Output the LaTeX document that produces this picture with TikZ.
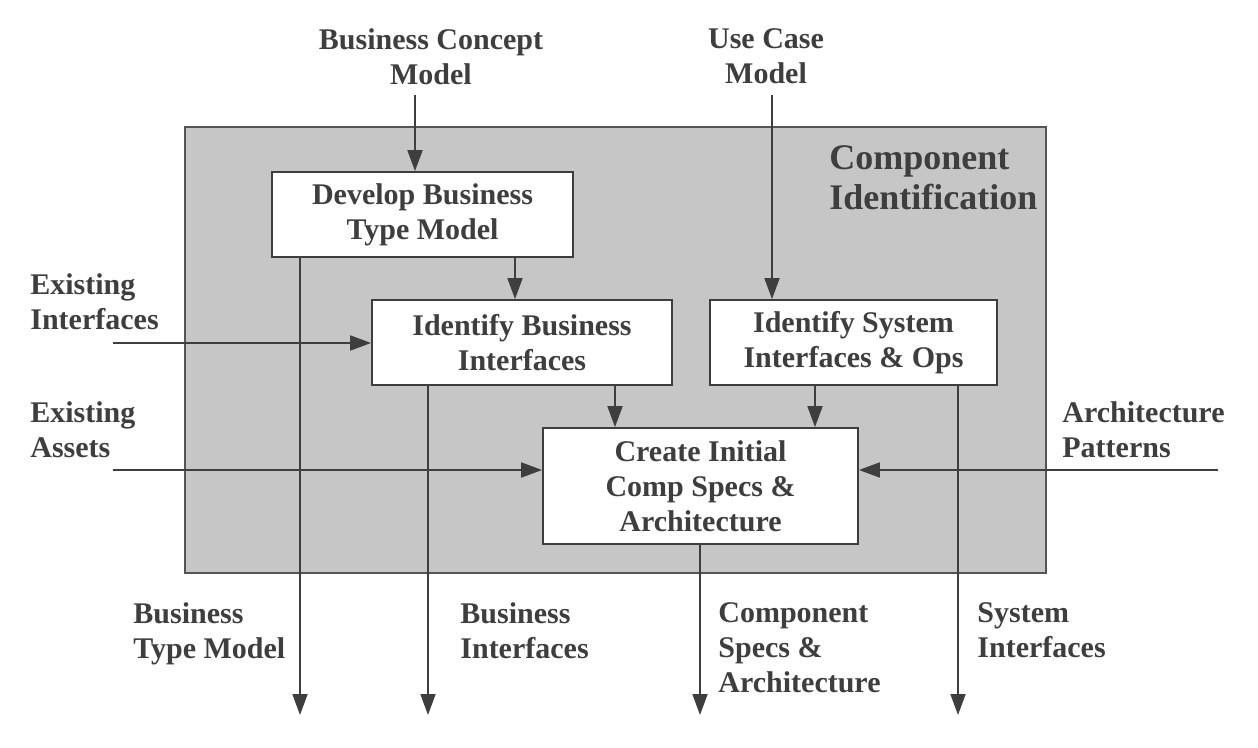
\documentclass[tikz,border=0pt]{standalone}
\usepackage{fontspec}
\setmainfont{Liberation Serif}
\usetikzlibrary{arrows.meta}
\definecolor{ink}{RGB}{62,62,62}
\definecolor{panelfill}{RGB}{198,198,198}
\definecolor{paneledge}{RGB}{85,85,85}
\begin{document}
\begin{tikzpicture}[x=0.5pt,y=-0.5pt,
  every node/.style={text=ink, font=\fontsize{15}{17.5}\selectfont\bfseries},
  proc/.style={draw=ink, line width=0.9pt, fill=white, align=center, inner sep=0pt},
  lbl/.style={align=left, anchor=north west, inner sep=0pt},
  lblc/.style={align=center, anchor=north, inner sep=0pt},
  flow/.style={draw=ink, line width=0.9pt, -{Triangle[length=10.5pt,width=7.5pt]}},
]
\useasboundingbox (0,0) rectangle (1258,748);
\node[draw=paneledge, line width=1pt, fill=panelfill, minimum width=430.5pt, minimum height=223pt, inner sep=0pt] (panel) at (615.5,350) {};

\node[lbl, font=\fontsize{18}{20}\selectfont\bfseries] (title) at (829,145) {Component\\Identification};

\node[proc, minimum width=150.5pt, minimum height=42.5pt] (dev) at (422.5,214.5) {Develop Business\\Type Model};
\node[proc, minimum width=150pt, minimum height=42.5pt] (ibi) at (522,342.5) {Identify Business\\Interfaces};
\node[proc, minimum width=143.5pt, minimum height=42.5pt] (sys) at (853.5,342.5) {Identify System\\Interfaces \& Ops};
\node[proc, minimum width=157.5pt, minimum height=58pt] (cre) at (700.5,486) {Create Initial\\Comp Specs \&\\Architecture};

\node[lblc] (bcm) at (431,28) {Business Concept\\Model};
\node[lblc] (ucm) at (766,28) {Use Case\\Model};
\node[lbl] (ei) at (30,273) {Existing\\Interfaces};
\node[lbl] (ea) at (30,401) {Existing\\Assets};
\node[lbl] (ap) at (1062,401) {Architecture\\Patterns};
\node[lbl] (btm) at (133,602) {Business\\Type Model};
\node[lbl] (bi) at (460,602) {Business\\Interfaces};
\node[lbl] (csa) at (718,602) {Component\\Specs \&\\Architecture};
\node[lbl] (si) at (977,602) {System\\Interfaces};

\coordinate (inBCM) at (415,95);
\coordinate (inUC) at (772,95);
\coordinate (inEI) at (113,343);
\coordinate (inEA) at (113,470);
\coordinate (inAP) at (1218,470);
\coordinate (outBTM) at (300,715);
\coordinate (outBI) at (428,715);
\coordinate (outCSA) at (700,715);
\coordinate (outSI) at (958,715);
\coordinate (cA) at (515,0);
\coordinate (cB) at (615,0);
\coordinate (cC) at (815,0);

\draw[flow] (inBCM) -- (inBCM |- dev.north);
\draw[flow] (inUC) -- (inUC |- sys.north);
\draw[flow] (inEI) -- (inEI -| ibi.west);
\draw[flow] (inEA) -- (inEA -| cre.west);
\draw[flow] (inAP) -- (inAP -| cre.east);
\draw[flow] (dev.south -| cA) -- (ibi.north -| cA);
\draw[flow] (ibi.south -| cB) -- (cre.north -| cB);
\draw[flow] (sys.south -| cC) -- (cre.north -| cC);
\draw[flow] (dev.south -| outBTM) -- (outBTM);
\draw[flow] (ibi.south -| outBI) -- (outBI);
\draw[flow] (cre.south -| outCSA) -- (outCSA);
\draw[flow] (sys.south -| outSI) -- (outSI);
\end{tikzpicture}
\end{document}
